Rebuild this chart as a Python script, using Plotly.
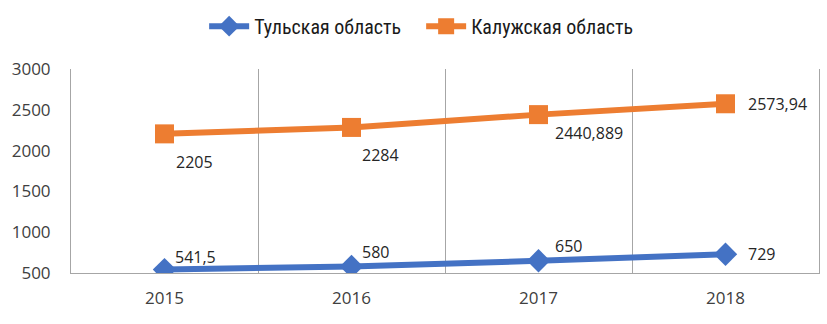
import plotly.graph_objects as go

years = ["2015", "2016", "2017", "2018"]
tula = [541.5, 580, 650, 729]
kaluga = [2205, 2284, 2440.889, 2573.94]
tula_name = "Тульская область"
kaluga_name = "Калужская область"

def fmt(v):
    s = str(int(v)) if v == int(v) else repr(v)
    return s.replace(".", ",")

xpos = list(range(len(years)))
FONT = "Open Sans"
LEGFONT = "Liberation Sans Narrow, Roboto Condensed, Open Sans Condensed, Roboto"

# label placement (pixel offsets from each point), styling only
tula_shift = [(8, 13), (8, 14), (14, 15), (20, 0)]
kaluga_shift = [(9, -28), (8, -28), (14, -18), (20, 0)]

fig = go.Figure()
fig.add_trace(go.Scatter(
    x=xpos, y=tula, name=tula_name, mode="lines+markers",
    line=dict(color="#4472C4", width=6),
    marker=dict(symbol="diamond", size=18, color="#4472C4"),
))
fig.add_trace(go.Scatter(
    x=xpos, y=kaluga, name=kaluga_name, mode="lines+markers",
    line=dict(color="#ED7D31", width=6),
    marker=dict(symbol="square", size=19, color="#ED7D31"),
))

for vals, shifts in ((tula, tula_shift), (kaluga, kaluga_shift)):
    for xi, v, (dx, dy) in zip(xpos, vals, shifts):
        fig.add_annotation(x=xi, y=v, text=fmt(v), showarrow=False,
                           xanchor="left", yanchor="middle", xshift=dx, yshift=dy,
                           font=dict(size=16, color="#262626", family=FONT))

fig.update_layout(
    width=827, height=324,
    margin=dict(l=71, r=8, t=69, b=51, autoexpand=False),
    paper_bgcolor="white", plot_bgcolor="white",
    font=dict(family=FONT, size=17, color="#404040"),
    legend=dict(orientation="h", x=0.178, xanchor="left", y=1.21, yanchor="middle",
                font=dict(size=20, color="#1a1a1a", family=LEGFONT),
                itemwidth=40, entrywidth=162, entrywidthmode="pixels"),
    showlegend=True,
)
fig.update_xaxes(
    range=[-0.5, 3.5], tickvals=xpos, ticktext=years, showgrid=False,
    showline=True, linecolor="#A6A6A6", linewidth=1, mirror=False,
    ticks="", zeroline=False, ticklabelstandoff=10,
    minor=dict(tick0=-0.5, dtick=1, showgrid=True, gridcolor="#A6A6A6", gridwidth=1),
    tickfont=dict(size=17, color="#404040"),
)
fig.update_yaxes(
    range=[500, 3000], dtick=500, showgrid=False, zeroline=False,
    showline=True, linecolor="#A6A6A6", linewidth=1, ticks="", mirror=True,
    ticklabelstandoff=16,
    tickfont=dict(size=17, color="#404040"),
)

fig.write_html("out.html", config={"displayModeBar": False},
               post_script="document.body.style.margin='0';document.body.style.overflow='hidden';")
